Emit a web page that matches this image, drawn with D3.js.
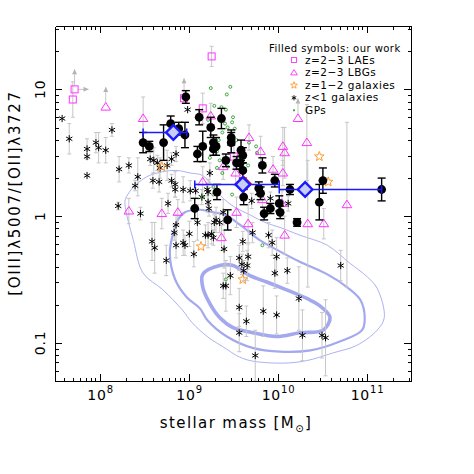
<!DOCTYPE html>
<meta charset="utf-8">
<style>
body { margin: 0; background: #fff; }
text { font-family: 'DejaVu Sans', sans-serif; fill: #000; }
.axis path, .axis line { stroke: #000; stroke-width: 1; fill: none; shape-rendering: crispEdges; }
.contour { fill: none; stroke: #a3a8ef; }
.gerr { stroke: #c6c6c6; stroke-width: 1; fill: none; }
</style>
<body>
<script src="https://d3js.org/d3.v7.min.js"></script>
<script>
// all values: [log10(M*/Msun), log10([OIII]/[OII]), error in dex]

// filled symbols: our work
var ourWork = [
  [8.97,0.94,0.05],[9.12,0.78,0.06],[9.25,0.70,0.08],[9.37,0.77,0.08],[8.80,0.73,0.06],
  [8.89,0.69,0.05],[8.96,0.64,0.10],[8.49,0.58,0.08],[8.56,0.55,0.04],[8.72,0.58,0.14],
  [9.10,0.49,0.06],[9.16,0.55,0.12],[9.28,0.58,0.06],[9.31,0.55,0.07],[9.28,0.53,0.05],
  [9.42,0.44,0.05],[9.48,0.62,0.06],[9.48,0.58,0.08],[9.59,0.52,0.08],[9.61,0.48,0.06],
  [9.58,0.42,0.05],[9.83,0.40,0.06],[9.32,0.19,0.06],[9.79,0.22,0.05],[9.54,0.42,0.05],
  [9.61,0.36,0.06],[9.62,0.15,0.06],[9.85,0.02,0.05],[9.92,0.06,0.04],[9.97,0.28,0.05],
  [10.02,0.10,0.06],[10.14,0.21,0.04],[10.22,-0.05,0.03],[10.47,0.11,0.14],[10.51,0.28,0.10],
  [11.17,0.21,0.09],[9.07,0.06,0.08],[9.44,-0.03,0.08],[9.81,0.18,0.05],[10.03,0.03,0.05]
];

// binned medians: [logM, logO32, logM low, logM high]
var binned = [
  [8.83,0.66,8.49,8.98],
  [9.61,0.25,9.07,10.02],
  [10.31,0.21,10.02,11.17]
];
var binnedRed = [[9.61,0.25]];

// z=2-3 LAEs: [logM, logO32, err, limit]
var lae = [
  [7.72,1.00,0,"both"],[7.70,0.92,0.14,""],[9.26,1.26,0.08,""],
  [8.95,0.93,0,"up"],[9.16,0.85,0.12,""],[9.51,0.47,0.10,""]
];

// z=2-3 LBGs
var lbg = [
  [8.07,0.86,0,"up"],[8.49,0.77,0.17,""],[9.25,0.79,0.10,""],[9.68,0.62,0.10,""],
  [9.81,0.51,0.12,""],[9.39,0.39,0.10,""],[9.53,0.34,0.10,""],[9.16,0.27,0.12,""],
  [10.06,0.55,0.15,""],[10.08,0.50,0.20,""],[10.33,0.58,0.30,""],[10.23,0.77,0,"up"],
  [9.95,0.37,0.10,""],[10.06,0.34,0.10,""],[10.78,0.09,0.65,""],[9.54,0.03,0.12,""],
  [9.67,-0.06,0.15,""],[9.37,-0.17,0.10,""],[10.08,-0.15,0.15,""],[10.34,-0.06,0.50,""],
  [10.52,-0.06,0.12,""],[8.33,0.04,0.10,""],[8.70,0.02,0.12,""],[8.88,0.03,0.10,""],
  [9.83,0.13,0.10,""],[10.05,0.10,0.10,""]
];

// z=1-2 galaxies
var z12 = [[10.47,0.47],[10.57,0.27],[9.14,-0.24],[9.61,-0.50],[8.70,0.39]];

// z<1 galaxies
var zlt1 = [
  [7.58,0.77,0],[7.66,0.61,0.12],[7.86,0.53,0.08],[7.86,0.47,0],[7.86,0.32,0],
  [7.96,0.58,0.08],[7.99,0.54,0.12],[8.07,0.52,0.10],[8.14,0.68,0.05],[8.22,0.37,0.10],
  [8.33,0.40,0.06],[8.43,0.31,0.15],[8.40,0.24,0.04],[8.57,0.45,0.05],[8.61,0.44,0.10],
  [8.65,0.42,0.06],[8.68,0.38,0.08],[8.76,0.40,0.12],[8.81,0.45,0.05],[8.86,0.49,0.06],
  [8.60,0.28,0.06],[8.67,0.27,0.08],[8.81,0.28,0.05],[8.85,0.25,0.10],[8.85,0.21,0.06],
  [8.94,0.21,0.10],[8.99,0.84,0],[9.02,0.20,0.08],[9.08,0.20,0.06],[9.22,0.19,0.10],
  [9.24,0.34,0.08],[8.21,0.08,0.03],[8.46,0.02,0.05],[8.59,-0.20,0.15],[8.62,-0.25,0.20],
  [8.75,-0.35,0.12],[8.77,0.10,0.08],[8.86,-0.07,0.08],[8.84,-0.13,0.06],[8.94,-0.21,0.10],
  [8.96,-0.23,0.08],[8.86,-0.23,0.10],[9.01,-0.14,0.10],[9.06,-0.30,0.10],[9.10,-0.05,0.14],
  [9.15,0.15,0.06],[9.22,0.11,0.08],[9.22,-0.15,0.10],[9.29,-0.05,0.06],[9.26,-0.14,0.08],
  [9.35,-0.05,0.08],[9.40,-0.26,0.15],[9.42,-0.55,0.20],[9.57,-0.33,0.10],[9.66,-0.39,0.12],
  [9.67,-0.32,0.10],[9.62,-0.43,0.08],[9.57,-0.72,0.15],[9.57,-0.92,0.15],[9.65,-0.83,0.12],
  [9.21,0.21,0.05],[9.23,0.06,0.06],[9.39,0.03,0.10],[9.31,-0.03,0.10],[9.19,-0.15,0.08],
  [9.28,-0.17,0.06],[9.61,-0.20,0.08],[9.72,-0.13,0.08],[9.90,-0.15,0.10],[9.94,-0.21,0.10],
  [9.99,-0.32,0.15],[9.60,-0.38,0.08],[9.47,-0.47,0.15],[9.39,-0.55,0.10],[9.97,-0.45,0.12],
  [10.11,-0.43,0.10],[10.71,-0.39,0.12],[9.84,-0.75,0.20],[9.99,-0.78,0.15],[10.24,-0.65,0.25],
  [10.28,-0.94,0.20],[10.50,-0.94,0.18],[10.54,-0.96,0.30],[9.75,-1.10,0.20],[9.71,0.12,0.06],
  [9.92,0.14,0.05],[10.12,0.10,0.06]
];

// green peas
var gps = [
  [9.25,1.01],[9.47,1.02],[9.43,0.96],[9.29,0.87],[9.37,0.86],[9.42,0.84],[9.50,0.78],
  [9.39,0.77],[9.49,0.74],[9.41,0.73],[9.44,0.70],[9.52,0.69],[9.38,0.66],[9.49,0.64],
  [9.54,0.60],[9.32,0.51],[9.35,0.44],[9.32,0.38],[9.38,0.34],[9.44,0.39],[9.24,0.46],
  [9.28,0.23],[9.68,0.58],[9.76,0.55],[9.77,0.50],[9.67,0.40],[9.49,0.17],[9.42,-0.50],
  [9.83,-0.23],[9.28,0.17],[9.16,0.15],[9.34,0.60],[9.22,0.76]
];

// SDSS contours
var contourOuter = [
  [8.29,0.13],[8.37,0.22],[8.53,0.31],[8.71,0.35],[8.87,0.36],[9.02,0.34],[9.16,0.32],
  [9.28,0.23],[9.39,0.14],[9.52,0.07],[9.69,0.01],[9.86,-0.05],[10.03,-0.09],[10.25,-0.15],
  [10.56,-0.23],[10.81,-0.37],[11.01,-0.48],[11.12,-0.57],[11.20,-0.80],[11.12,-0.90],
  [10.89,-1.02],[10.62,-1.08],[10.33,-1.14],[10.06,-1.16],[9.69,-1.14],[9.54,-1.10],
  [9.43,-1.05],[9.21,-0.95],[9.04,-0.84],[8.93,-0.74],[8.71,-0.58],[8.49,-0.45],
  [8.38,-0.19],[8.29,0.07]
];
var contourMid = [
  [8.96,0.03],[9.13,0.05],[9.28,0.03],[9.41,0.01],[9.58,-0.07],[9.80,-0.19],[10.03,-0.28],
  [10.25,-0.36],[10.56,-0.46],[10.78,-0.56],[10.93,-0.66],[10.98,-0.80],[10.95,-0.90],
  [10.70,-0.99],[10.37,-1.06],[10.03,-1.07],[9.72,-1.04],[9.43,-0.95],[9.21,-0.82],
  [9.13,-0.73],[8.98,-0.64],[8.85,-0.50],[8.79,-0.29],[8.83,-0.13],[8.88,-0.03]
];
var contourInner = [
  [9.16,-0.46],[9.35,-0.39],[9.50,-0.39],[9.69,-0.47],[9.88,-0.52],[10.06,-0.57],
  [10.33,-0.65],[10.46,-0.70],[10.59,-0.80],[10.51,-0.90],[10.25,-0.92],[9.99,-0.95],
  [9.72,-0.92],[9.50,-0.88],[9.35,-0.80],[9.24,-0.69],[9.16,-0.56]
];

var xMajor = [1e8, 1e9, 1e10, 1e11];
var xMajorExp = ["8", "9", "10", "11"];
var yMajor = [0.1, 1, 10];
var yMajorLabels = ["0.1", "1", "10"];
var legendItems = ["z=2\u22123 LAEs", "z=2\u22123 LBGs", "z=1\u22122 galaxies", "z<1 galaxies", "GPs"];

var margin = {top: 26, left: 55},
    width = 356, height = 355;

var x = d3.scaleLog().domain([Math.pow(10, 7.5), Math.pow(10, 11.5)]).range([0, width]);
var y = d3.scaleLog().domain([0.05, Math.pow(10, 1.5)]).range([height, 0]);
function X(v) { return x(Math.pow(10, v)); }
function Y(v) { return y(Math.pow(10, v)); }

var svg = d3.select("body").append("svg")
    .attr("width", 474).attr("height", 474);
var g = svg.append("g")
    .attr("transform", "translate(" + margin.left + "," + margin.top + ")");

svg.append("clipPath").attr("id", "clip")
  .append("rect").attr("x", margin.left).attr("y", margin.top).attr("width", width).attr("height", height);
var plot = g.append("g").attr("clip-path", "url(#clip)")
    .attr("transform", "translate(0,0)");
// clip rect is in svg coords; shift back
plot.attr("clip-path", null);
var clipG = svg.append("g").attr("clip-path", "url(#clip)")
  .append("g").attr("transform", "translate(" + margin.left + "," + margin.top + ")");
plot.remove();
plot = clipG;

// symbol paths
function asterisk(r) {
  var c = r * Math.cos(Math.PI / 6), s = r * Math.sin(Math.PI / 6);
  return "M0," + (-r) + "L0," + r + "M" + (-c) + "," + (-s) + "L" + c + "," + s +
         "M" + (-c) + "," + s + "L" + c + "," + (-s);
}
function star(R) {
  var p = [];
  for (var i = 0; i < 10; i++) {
    var a = -Math.PI / 2 + i * Math.PI / 5, rr = i % 2 ? R * 0.42 : R;
    p.push([rr * Math.cos(a), rr * Math.sin(a)]);
  }
  return "M" + p.join("L") + "Z";
}
function triangle(s) { return "M0," + (-s) + "L" + (s * 1.05) + "," + (s * 0.65) + "L" + (-s * 1.05) + "," + (s * 0.65) + "Z"; }
function diamond(h) { return "M0," + (-h) + "L" + h + ",0L0," + h + "L" + (-h) + ",0Z"; }

// contours
var cline = d3.line().x(function(d) { return X(d[0]); }).y(function(d) { return Y(d[1]); })
    .curve(d3.curveCatmullRomClosed.alpha(0.5));
plot.append("path").attr("class", "contour").attr("stroke-width", 0.9).attr("d", cline(contourOuter));
plot.append("path").attr("class", "contour").attr("stroke-width", 2.2).attr("d", cline(contourMid));
plot.append("path").attr("class", "contour").attr("stroke-width", 3.6).attr("d", cline(contourInner));

// grey error bars
function greyBars(data) {
  var withErr = data.filter(function(d) { return d[2] > 0; });
  var gb = plot.append("g").attr("class", "gerr");
  gb.selectAll(".v").data(withErr).enter().append("line")
    .attr("x1", function(d) { return X(d[0]); }).attr("x2", function(d) { return X(d[0]); })
    .attr("y1", function(d) { return Y(d[1] - d[2]); }).attr("y2", function(d) { return Y(d[1] + d[2]); });
  [-1, 1].forEach(function(sgn) {
    gb.selectAll(".c" + sgn).data(withErr).enter().append("line")
      .attr("x1", function(d) { return X(d[0]) - 2; }).attr("x2", function(d) { return X(d[0]) + 2; })
      .attr("y1", function(d) { return Y(d[1] + sgn * d[2]); }).attr("y2", function(d) { return Y(d[1] + sgn * d[2]); });
  });
}
greyBars(zlt1);
greyBars(lbg);
greyBars(lae);

// lower-limit arrows
var arrowG = plot.append("g");
function arrow(x0, y0, dx, dy) {
  var len = Math.sqrt(dx * dx + dy * dy), ux = dx / len, uy = dy / len;
  var x1 = x0 + dx, y1 = y0 + dy;
  arrowG.append("line").attr("class", "gerr").attr("x1", x0).attr("y1", y0).attr("x2", x1).attr("y2", y1);
  arrowG.append("path").attr("fill", "#b4b4b4")
    .attr("d", "M" + x1 + "," + y1 + "L" + (x1 - ux * 5 - uy * 2.5) + "," + (y1 - uy * 5 + ux * 2.5) +
               "L" + (x1 - ux * 5 + uy * 2.5) + "," + (y1 - uy * 5 - ux * 2.5) + "Z");
}
lae.concat(lbg).forEach(function(d) {
  if (d[3] === "up" || d[3] === "both") arrow(X(d[0]), Y(d[1]) - 4, 0, -16);
  if (d[3] === "both") arrow(X(d[0]) + 4, Y(d[1]), 10, 0);
});

// z<1 galaxies
plot.append("g").selectAll("path").data(zlt1).enter().append("path")
  .attr("transform", function(d) { return "translate(" + X(d[0]) + "," + Y(d[1]) + ")"; })
  .attr("d", asterisk(3.6)).attr("stroke", "#000").attr("stroke-width", 1).attr("fill", "none");

// z=1-2
plot.append("g").selectAll("path").data(z12).enter().append("path")
  .attr("transform", function(d) { return "translate(" + X(d[0]) + "," + Y(d[1]) + ")"; })
  .attr("d", star(5)).attr("stroke", "#ff9a2e").attr("stroke-width", 1).attr("fill", "none");

// green peas
plot.append("g").selectAll("circle").data(gps).enter().append("circle")
  .attr("cx", function(d) { return X(d[0]); }).attr("cy", function(d) { return Y(d[1]); })
  .attr("r", 1.5).attr("stroke", "#2e9e2e").attr("stroke-width", 0.9).attr("fill", "none");

// LBGs
plot.append("g").selectAll("path").data(lbg).enter().append("path")
  .attr("transform", function(d) { return "translate(" + X(d[0]) + "," + Y(d[1]) + ")"; })
  .attr("d", triangle(4.6)).attr("stroke", "#ff33ff").attr("stroke-width", 1).attr("fill", "none");

// LAEs
plot.append("g").selectAll("rect").data(lae).enter().append("rect")
  .attr("x", function(d) { return X(d[0]) - 3.5; }).attr("y", function(d) { return Y(d[1]) - 3.5; })
  .attr("width", 7).attr("height", 7)
  .attr("stroke", "#ff33ff").attr("stroke-width", 1).attr("fill", "none");

// our work: error bars + filled circles
var ow = plot.append("g").attr("stroke", "#000").attr("stroke-width", 1.4);
ow.selectAll(".v").data(ourWork).enter().append("line")
  .attr("x1", function(d) { return X(d[0]); }).attr("x2", function(d) { return X(d[0]); })
  .attr("y1", function(d) { return Y(d[1] - d[2]); }).attr("y2", function(d) { return Y(d[1] + d[2]); });
[-1, 1].forEach(function(sgn) {
  ow.selectAll(".c" + sgn).data(ourWork).enter().append("line")
    .attr("x1", function(d) { return X(d[0]) - 4; }).attr("x2", function(d) { return X(d[0]) + 4; })
    .attr("y1", function(d) { return Y(d[1] + sgn * d[2]); }).attr("y2", function(d) { return Y(d[1] + sgn * d[2]); });
});
plot.append("g").selectAll("circle").data(ourWork).enter().append("circle")
  .attr("cx", function(d) { return X(d[0]); }).attr("cy", function(d) { return Y(d[1]); })
  .attr("r", 4.4).attr("fill", "#000");

// binned medians
var bg = plot.append("g").attr("stroke", "#1a1aff").attr("stroke-width", 1.5);
bg.selectAll(".h").data(binned).enter().append("line")
  .attr("x1", function(d) { return X(d[2]); }).attr("x2", function(d) { return X(d[3]); })
  .attr("y1", function(d) { return Y(d[1]); }).attr("y2", function(d) { return Y(d[1]); });
[2, 3].forEach(function(k) {
  bg.selectAll(".e" + k).data(binned).enter().append("line")
    .attr("x1", function(d) { return X(d[k]); }).attr("x2", function(d) { return X(d[k]); })
    .attr("y1", function(d) { return Y(d[1]) - 4; }).attr("y2", function(d) { return Y(d[1]) + 4; });
});
plot.append("g").selectAll("path").data(binnedRed).enter().append("path")
  .attr("transform", function(d) { return "translate(" + (X(d[0]) + 0.5) + "," + (Y(d[1]) - 0.5) + ")"; })
  .attr("d", diamond(9)).attr("fill", "#ff1a1a");
plot.append("g").selectAll("path").data(binned).enter().append("path")
  .attr("transform", function(d) { return "translate(" + X(d[0]) + "," + Y(d[1]) + ")"; })
  .attr("d", diamond(7.3)).attr("fill", "#c9cdf3").attr("stroke", "#1a1aff").attr("stroke-width", 2.4);

// axes
var xMinor = x.ticks().filter(function(v) { return xMajor.indexOf(v) < 0; });
var yMinor = y.ticks().filter(function(v) { return yMajor.indexOf(v) < 0; });

function addAxis(axisFn, scale, vals, size, transform) {
  g.append("g").attr("class", "axis").attr("transform", transform)
    .call(axisFn(scale).tickValues(vals).tickSize(-size).tickSizeOuter(0).tickFormat(""));
}
addAxis(d3.axisBottom, x, xMajor, 7, "translate(0," + height + ")");
addAxis(d3.axisBottom, x, xMinor, 3.5, "translate(0," + height + ")");
addAxis(d3.axisTop, x, xMajor, 7, "translate(0,0)");
addAxis(d3.axisTop, x, xMinor, 3.5, "translate(0,0)");
addAxis(d3.axisLeft, y, yMajor, 7, "translate(0,0)");
addAxis(d3.axisLeft, y, yMinor, 3.5, "translate(0,0)");
addAxis(d3.axisRight, y, yMajor, 7, "translate(" + width + ",0)");
addAxis(d3.axisRight, y, yMinor, 3.5, "translate(" + width + ",0)");

// tick labels
xMajor.forEach(function(v, i) {
  var t = g.append("text").attr("x", x(v) + 1).attr("y", height + 18.5)
    .attr("text-anchor", "middle").style("font-size", "14px").style("letter-spacing", "0.8px");
  t.append("tspan").text("10");
  t.append("tspan").attr("dy", -6.5).style("font-size", "10px").text(xMajorExp[i]);
});
yMajor.forEach(function(v, i) {
  g.append("text").attr("transform", "translate(-10," + y(v) + ") rotate(-90)")
    .attr("text-anchor", "middle").style("font-size", "14px").style("letter-spacing", "0.8px")
    .text(yMajorLabels[i]);
});

// axis titles
var xt = svg.append("text").attr("x", 236).attr("y", 428).attr("text-anchor", "middle")
  .style("font-size", "15px").style("letter-spacing", "1.4px");
xt.append("tspan").text("stellar mass [M");
xt.append("tspan").attr("dy", 4).style("font-size", "10px").text("\u2299");
xt.append("tspan").attr("dy", -4).text("]");

svg.append("text").attr("transform", "translate(20,193) rotate(-90)")
  .attr("text-anchor", "middle").style("font-size", "15px").style("letter-spacing", "1.7px")
  .text("[OIII]\u03bb5007/[OII]\u03bb3727");

// legend
var lg = svg.append("g");
lg.append("text").attr("x", 269).attr("y", 52).style("font-size", "10px").style("letter-spacing", "0.45px")
  .text("Filled symbols: our work");
legendItems.forEach(function(s, i) {
  lg.append("text").attr("x", 305).attr("y", 63.5 + i * 12.5)
    .style("font-size", "10.5px").style("letter-spacing", "0.5px").text(s);
});
var mx = 294;
lg.append("rect").attr("x", mx - 2.5).attr("y", 60 - 2.5).attr("width", 5).attr("height", 5)
  .attr("stroke", "#ff33ff").attr("fill", "none").attr("stroke-width", 0.9);
lg.append("path").attr("transform", "translate(" + mx + ",72.8)").attr("d", triangle(3.2))
  .attr("stroke", "#ff33ff").attr("fill", "none").attr("stroke-width", 0.9);
lg.append("path").attr("transform", "translate(" + mx + ",85.3)").attr("d", star(3.6))
  .attr("stroke", "#ff9a2e").attr("fill", "none").attr("stroke-width", 0.9);
lg.append("path").attr("transform", "translate(" + mx + ",97.8)").attr("d", asterisk(2.6))
  .attr("stroke", "#000").attr("fill", "none").attr("stroke-width", 0.9);
lg.append("circle").attr("cx", mx).attr("cy", 110.3).attr("r", 1.1).attr("fill", "#2e9e2e");
</script>
